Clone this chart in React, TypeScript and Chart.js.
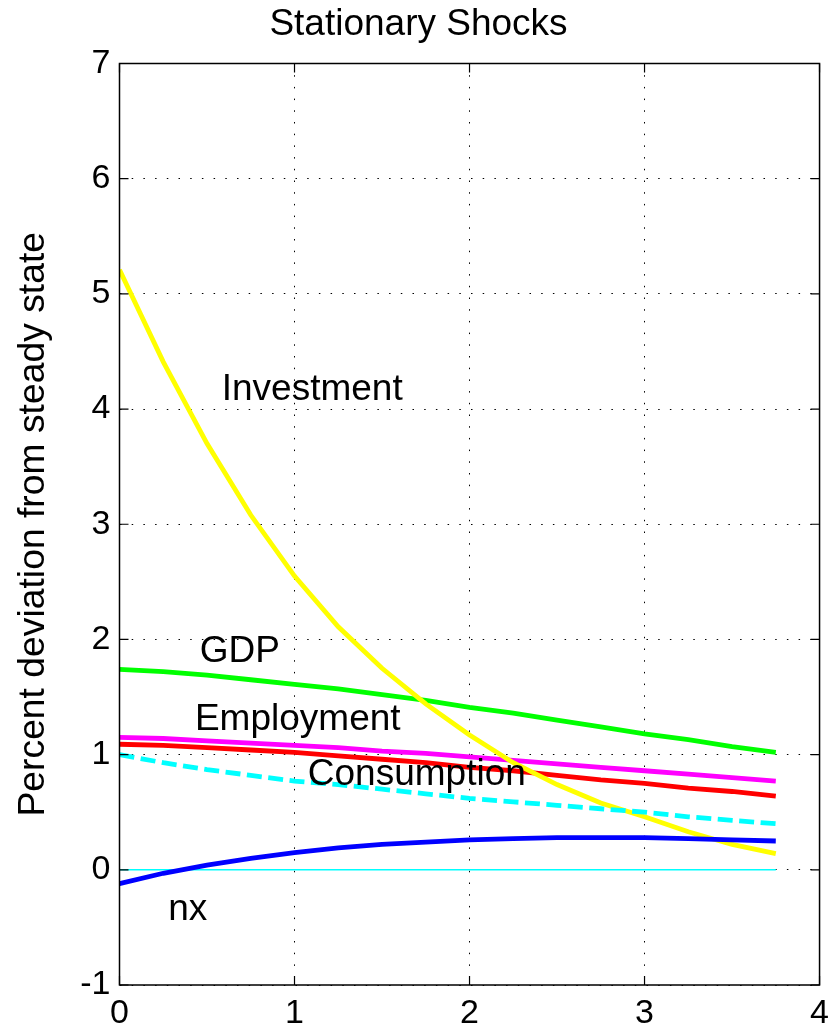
import React, { useEffect, useRef } from "react";
import { Chart, registerables } from "chart.js";

Chart.register(...registerables);

// Quarters after the shock (years)
const quarters = [0, 0.25, 0.5, 0.75, 1, 1.25, 1.5, 1.75, 2, 2.25, 2.5, 2.75, 3, 3.25, 3.5, 3.75];

// Percent deviation from steady state, one value per quarter
const investment = [5.21, 4.41, 3.70, 3.08, 2.55, 2.11, 1.75, 1.44, 1.17, 0.93, 0.74, 0.58, 0.46, 0.33, 0.22, 0.14];
const gdp = [1.74, 1.72, 1.69, 1.65, 1.61, 1.57, 1.52, 1.47, 1.41, 1.36, 1.30, 1.24, 1.18, 1.13, 1.07, 1.02];
const employment = [1.15, 1.14, 1.12, 1.10, 1.08, 1.06, 1.03, 1.01, 0.98, 0.95, 0.92, 0.89, 0.86, 0.83, 0.80, 0.77];
const consumption = [1.09, 1.08, 1.06, 1.04, 1.02, 0.99, 0.96, 0.93, 0.89, 0.86, 0.82, 0.78, 0.75, 0.71, 0.68, 0.64];
const dashedPath = [1.00, 0.93, 0.87, 0.82, 0.77, 0.74, 0.70, 0.66, 0.62, 0.59, 0.56, 0.53, 0.50, 0.46, 0.43, 0.40];
const nx = [-0.12, -0.03, 0.04, 0.10, 0.15, 0.19, 0.22, 0.24, 0.26, 0.27, 0.28, 0.28, 0.28, 0.27, 0.26, 0.25];
const zeroLine = [0, 0, 0, 0, 0, 0, 0, 0, 0, 0, 0, 0, 0, 0, 0, 0];

// In-plot text labels, anchored at (x, y) in data units (left, baseline)
const labelTexts = ["Investment", "GDP", "Employment", "Consumption", "nx"];
const labelX = [0.584, 0.459, 0.431, 1.076, 0.278];
const labelY = [4.08, 1.8, 1.216, 0.738, -0.434];

// Axis ranges
const xRange = [0, 4];
const yRange = [-1, 7];

const FONT = "'Liberation Sans', Arial, Helvetica, sans-serif";

const toPoints = (ys: number[]) => quarters.map((q, i) => ({ x: q, y: ys[i] }));

// Box around the plot with inward tick marks on all four sides, plus the text labels
const framePlugin = {
  id: "frame",
  afterDatasetsDraw(chart: any) {
    const { ctx, scales } = chart;
    ctx.save();
    ctx.fillStyle = "#000";
    ctx.font = `37px ${FONT}`;
    ctx.textAlign = "left";
    ctx.textBaseline = "alphabetic";
    labelTexts.forEach((t, i) => {
      ctx.fillText(t, scales.x.getPixelForValue(labelX[i]), scales.y.getPixelForValue(labelY[i]));
    });
    ctx.restore();
  },
  afterDraw(chart: any) {
    const { ctx, chartArea: a, scales } = chart;
    const len = 9;
    ctx.save();
    ctx.strokeStyle = "#000";
    ctx.lineWidth = 1.5;
    ctx.strokeRect(a.left, a.top, a.right - a.left, a.bottom - a.top);
    ctx.lineWidth = 1.2;
    ctx.beginPath();
    scales.x.ticks.forEach((t: any) => {
      const px = scales.x.getPixelForValue(t.value);
      ctx.moveTo(px, a.bottom);
      ctx.lineTo(px, a.bottom - len);
      ctx.moveTo(px, a.top);
      ctx.lineTo(px, a.top + len);
    });
    scales.y.ticks.forEach((t: any) => {
      const py = scales.y.getPixelForValue(t.value);
      ctx.moveTo(a.left, py);
      ctx.lineTo(a.left + len, py);
      ctx.moveTo(a.right, py);
      ctx.lineTo(a.right - len, py);
    });
    ctx.stroke();
    ctx.restore();
  },
};

const line = (label: string, ys: number[], color: string, order: number, extra: any = {}) => ({
  label,
  data: toPoints(ys),
  borderColor: color,
  backgroundColor: color,
  borderWidth: 4.8,
  pointRadius: 0,
  tension: 0,
  fill: false,
  order,
  ...extra,
});

export default function App() {
  const canvasRef = useRef<HTMLCanvasElement | null>(null);

  useEffect(() => {
    const canvas = canvasRef.current;
    if (!canvas) return;
    const chart = new Chart(canvas, {
      type: "line",
      data: {
        datasets: [
          line("nx", nx, "#0000FF", 1),
          line("Dashed", dashedPath, "#00FFFF", 2, { borderDash: [15, 6.5] }),
          line("Investment", investment, "#FFFF00", 3),
          line("Consumption", consumption, "#FF0000", 4),
          line("Employment", employment, "#FF00FF", 5),
          line("GDP", gdp, "#00FF00", 6),
          line("Zero", zeroLine, "#00FFFF", 7, { borderWidth: 1.5 }),
        ],
      },
      options: {
        responsive: false,
        animation: false,
        devicePixelRatio: 1,
        layout: { padding: { left: 0, right: 0, top: 0, bottom: 0 } },
        plugins: {
          legend: { display: false },
          tooltip: { enabled: false },
          title: {
            display: true,
            text: "Stationary Shocks",
            color: "#000",
            font: { family: FONT, size: 37, weight: "normal" },
            padding: { top: 3, bottom: 16.1 },
          },
        },
        scales: {
          x: {
            type: "linear",
            min: xRange[0],
            max: xRange[1],
            afterFit: (s: any) => {
              s.height = 49;
            },
            ticks: {
              stepSize: 1,
              color: "#000",
              padding: 8,
              font: { family: FONT, size: 34 },
            },
            grid: {
              color: "#000",
              lineWidth: 1,
              drawTicks: false,
            },
            border: { display: false, dash: [1.5, 10.2] },
          },
          y: {
            type: "linear",
            min: yRange[0],
            max: yRange[1],
            afterFit: (s: any) => {
              s.width = 119.5;
            },
            ticks: {
              stepSize: 1,
              color: "#000",
              padding: 9,
              font: { family: FONT, size: 34 },
            },
            grid: {
              color: "#000",
              lineWidth: 1,
              drawTicks: false,
            },
            border: { display: false, dash: [1.5, 10.2] },
            title: {
              display: true,
              text: "Percent deviation from steady state",
              color: "#000",
              font: { family: FONT, size: 37.3 },
              padding: { top: 11.5, bottom: 0 },
            },
          },
          // Empty right-hand strip that keeps the plot's right edge off the canvas edge
          yRight: {
            type: "linear",
            position: "right",
            min: yRange[0],
            max: yRange[1],
            afterFit: (s: any) => {
              s.width = 12;
            },
            ticks: { display: false },
            grid: { display: false, drawTicks: false },
            border: { display: false },
          },
        },
      },
      plugins: [framePlugin],
    });
    return () => chart.destroy();
  }, []);

  return (
    <div style={{ position: "absolute", left: 0, top: 0, width: 837, height: 1034, background: "#fff" }}>
      <canvas ref={canvasRef} width={837} height={1034} />
    </div>
  );
}
